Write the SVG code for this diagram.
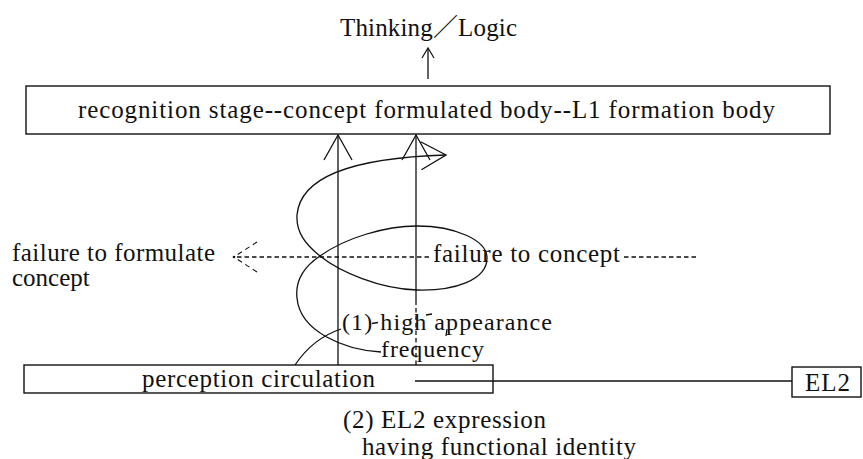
<svg xmlns="http://www.w3.org/2000/svg" width="863" height="459" viewBox="0 0 863 459">
<style>
.t{font-family:"Liberation Serif","Noto Sans CJK JP",serif;font-size:25px;fill:#111}
.s{font-size:24px}
.ln{stroke:#111;stroke-width:1.3;fill:none}
.box{stroke:#111;stroke-width:1.4;fill:none}
.dsh{stroke-dasharray:4.5 3}
</style>
<defs>
<marker id="big" markerUnits="userSpaceOnUse" markerWidth="40" markerHeight="40" viewBox="-30 -20 40 40" refX="0" refY="0" orient="auto">
<path d="M-25,-14 L0,0 L-25,14" fill="none" stroke="#111" stroke-width="1.3"/>
</marker>
<marker id="small" markerUnits="userSpaceOnUse" markerWidth="20" markerHeight="20" viewBox="-15 -10 20 20" refX="0" refY="0" orient="auto">
<path d="M-10,-6 L0,0 L-10,6" fill="none" stroke="#111" stroke-width="1.2"/>
</marker>
<marker id="dashed" markerUnits="userSpaceOnUse" markerWidth="40" markerHeight="40" viewBox="-30 -20 40 40" refX="0" refY="0" orient="auto">
<path d="M-23,-15 L-3,-2 M-23,15 L-3,2" fill="none" stroke="#111" stroke-width="1.1" stroke-dasharray="5 4"/>
<circle cx="0" cy="0" r="1.3" fill="#111"/>
</marker>
</defs>

<g id="connectors">
<line class="ln" x1="428" y1="79" x2="428" y2="48" marker-end="url(#small)"/>
<line class="ln" x1="338" y1="365" x2="338" y2="135" marker-end="url(#big)"/>
<line class="ln" x1="416" y1="305" x2="416" y2="135" marker-end="url(#big)"/>
<line class="ln dsh" x1="416" y1="365" x2="416" y2="305"/>
<line class="ln dsh" x1="429" y1="257" x2="234" y2="257" stroke-width="1.1" marker-end="url(#dashed)"/>
<line class="ln dsh" x1="624" y1="257" x2="697" y2="257" stroke-width="1.1"/>
<path class="ln" d="M295,365 C305,350 320,336 341,329"/>
<path class="ln" d="M372,323.5 L378,322.5"/>
<path class="ln" d="M426,315 L432,314"/>
<path class="ln" d="M447,329 L446,336"/>
<path class="ln" d="M381,352 C345,350 300,332 297,298 C295,280 305,266 320,256 C345,238 385,226 417,226 C455,226 487,240 487,258 C487,280 455,291 417,290 C380,289 340,272 320,256 C305,244 296,232 297,215 C300,180 345,158 446,155" marker-end="url(#big)"/>
<line class="ln" x1="415" y1="381" x2="792" y2="381"/>
</g>

<g id="thinking">
<text class="t" x="340" y="36" textLength="177">Thinking／Logic</text>
</g>

<g id="recognition">
<rect class="box" x="26" y="86" width="804" height="48"/>
<text class="t" x="78" y="118" textLength="697">recognition stage--concept formulated body--L1 formation body</text>
</g>

<g id="failure-formulate">
<text class="t" x="12" y="261" textLength="203">failure to formulate</text>
<text class="t" x="12" y="286">concept</text>
</g>

<g id="failure-concept">
<text class="t" x="433" y="262" textLength="187">failure to concept</text>
</g>

<g id="label1">
<text class="t s" x="342" y="330" textLength="210">(1) high appearance</text>
<text class="t s" x="381" y="357" textLength="103">frequency</text>
</g>

<g id="perception">
<rect class="box" x="24" y="365" width="469" height="28"/>
<text class="t" x="142" y="387" textLength="233">perception circulation</text>
</g>

<g id="el2">
<rect class="box" x="792" y="367" width="69" height="30"/>
<text class="t" x="805" y="391" textLength="45">EL2</text>
</g>

<g id="label2">
<text class="t" x="343" y="428" textLength="203">(2) EL2 expression</text>
<text class="t" x="362" y="455" textLength="274">having functional identity</text>
</g>
</svg>
